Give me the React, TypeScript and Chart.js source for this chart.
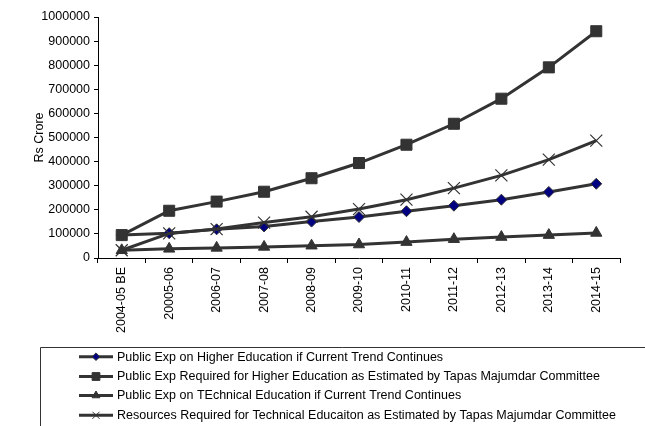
import React, { useEffect, useRef } from "react";
import { Chart, registerables } from "chart.js";

Chart.register(...registerables);

const categories = [
  "2004-05 BE", "20005-06", "2006-07", "2007-08", "2008-09", "2009-10",
  "2010-11", "2011-12", "2012-13", "2013-14", "2014-15",
];

const higherEdCurrent = [95000, 103000, 119000, 131000, 151000, 170000, 194000, 217000, 242000, 274000, 308000];
const higherEdRequired = [95000, 196000, 234000, 275000, 331000, 394000, 470000, 557000, 661000, 791000, 941000];
const techEdCurrent = [32000, 38000, 42000, 46000, 51000, 56000, 66000, 78000, 87000, 95000, 104000];
const techEdRequired = [32000, 102000, 120000, 147000, 171000, 203000, 242000, 290000, 343000, 408000, 487000];

const seriesNames = [
  "Public Exp on Higher Education if Current Trend Continues",
  "Public Exp Required for Higher Education as Estimated by Tapas Majumdar Committee",
  "Public Exp on TEchnical Education if Current Trend Continues",
  "Resources Required for Technical Educaiton as Estimated by Tapas Majumdar Committee",
];

const yTicks = [0, 100000, 200000, 300000, 400000, 500000, 600000, 700000, 800000, 900000, 1000000];

const FONT = "'Liberation Sans', Arial, Helvetica, sans-serif";
const FS = 12.5;
const LINE = "#333333";

function drawMarker(ctx: CanvasRenderingContext2D, style: string, x: number, y: number, r: number) {
  ctx.beginPath();
  if (style === "rect") {
    const s = r * Math.SQRT1_2;
    ctx.rect(x - s, y - s, 2 * s, 2 * s);
    ctx.fill();
    ctx.stroke();
  } else if (style === "rectRot") {
    ctx.moveTo(x, y - r);
    ctx.lineTo(x + r, y);
    ctx.lineTo(x, y + r);
    ctx.lineTo(x - r, y);
    ctx.closePath();
    ctx.fill();
    ctx.stroke();
  } else if (style === "triangle") {
    const w = (r * Math.sqrt(3)) / 2;
    ctx.moveTo(x, y - r);
    ctx.lineTo(x + w, y + r / 2);
    ctx.lineTo(x - w, y + r / 2);
    ctx.closePath();
    ctx.fill();
    ctx.stroke();
  } else if (style === "crossRot") {
    const o = r * Math.SQRT1_2;
    ctx.moveTo(x - o, y - o);
    ctx.lineTo(x + o, y + o);
    ctx.moveTo(x - o, y + o);
    ctx.lineTo(x + o, y - o);
    ctx.stroke();
  }
}

const legendPlugin = {
  id: "customLegend",
  afterDraw(chart: any) {
    const ctx = chart.ctx as CanvasRenderingContext2D;
    ctx.save();
    ctx.strokeStyle = "#333333";
    ctx.lineWidth = 1;
    ctx.beginPath();
    ctx.moveTo(40.5, 430);
    ctx.lineTo(40.5, 347.5);
    ctx.lineTo(645, 347.5);
    ctx.stroke();
    const ys = [356.7, 376.5, 395.5, 415.3];
    const legendSizes = [3.8, 5.5, 4.5, 5];
    chart.data.datasets.forEach((ds: any, i: number) => {
      const y = ys[i];
      ctx.strokeStyle = LINE;
      ctx.lineWidth = 3;
      ctx.beginPath();
      ctx.moveTo(79, y);
      ctx.lineTo(113, y);
      ctx.stroke();
      ctx.fillStyle = ds.pointBackgroundColor;
      ctx.strokeStyle = ds.pointBorderColor;
      ctx.lineWidth = 1;
      drawMarker(ctx, ds.pointStyle, 96, y, legendSizes[i]);
      ctx.fillStyle = "#000";
      ctx.font = `${FS}px ${FONT}`;
      ctx.textBaseline = "middle";
      ctx.textAlign = "left";
      ctx.fillText(seriesNames[i], 117, y + 0.5);
    });
    ctx.restore();
  },
};

export default function App() {
  const canvasRef = useRef<HTMLCanvasElement | null>(null);

  useEffect(() => {
    document.body.style.margin = "0";
    const canvas = canvasRef.current;
    if (!canvas) return;
    const chart = new Chart(canvas, {
      type: "line",
      data: {
        labels: categories,
        datasets: [
          {
            label: seriesNames[0],
            data: higherEdCurrent,
            borderColor: LINE,
            borderWidth: 3,
            pointStyle: "rectRot",
            pointRadius: 5.5,
            pointBackgroundColor: "#000080",
            pointBorderColor: "#333333",
            pointBorderWidth: 1,
            order: 4,
          },
          {
            label: seriesNames[1],
            data: higherEdRequired,
            borderColor: LINE,
            borderWidth: 3,
            pointStyle: "rect",
            pointRadius: 7.8,
            pointBackgroundColor: "#333333",
            pointBorderColor: "#333333",
            pointBorderWidth: 1,
            order: 3,
          },
          {
            label: seriesNames[2],
            data: techEdCurrent,
            borderColor: LINE,
            borderWidth: 3,
            pointStyle: "triangle",
            pointRadius: 6.5,
            pointBackgroundColor: "#333333",
            pointBorderColor: "#333333",
            pointBorderWidth: 1,
            order: 2,
          },
          {
            label: seriesNames[3],
            data: techEdRequired,
            borderColor: LINE,
            borderWidth: 3,
            pointStyle: "crossRot",
            pointRadius: 8.5,
            pointBackgroundColor: "#333333",
            pointBorderColor: "#333333",
            pointBorderWidth: 1.2,
            order: 1,
          },
        ],
      },
      options: {
        animation: false,
        responsive: false,
        maintainAspectRatio: false,
        layout: { padding: { left: 0, top: 17, right: 25, bottom: 0 } },
        plugins: {
          legend: { display: false },
          tooltip: { enabled: false },
          title: { display: false },
        },
        elements: { line: { tension: 0 } },
        scales: {
          x: {
            type: "category",
            offset: true,
            grid: {
              display: true,
              offset: true,
              drawOnChartArea: false,
              drawTicks: true,
              tickLength: 5,
              color: "#000",
            },
            border: { display: true, color: "#000", width: 1 },
            ticks: {
              color: "#000",
              font: { family: FONT, size: FS },
              minRotation: 90,
              maxRotation: 90,
              autoSkip: false,
              padding: 4,
            },
            afterFit: (scale: any) => {
              scale.height = 426 - 258;
            },
          },
          y: {
            type: "linear",
            min: 0,
            max: 1000000,
            afterBuildTicks: (scale: any) => {
              scale.ticks = yTicks.map((v) => ({ value: v }));
            },
            grid: {
              display: true,
              drawOnChartArea: false,
              drawTicks: true,
              tickLength: 4,
              color: "#000",
            },
            border: { display: true, color: "#000", width: 1 },
            ticks: {
              color: "#000",
              font: { family: FONT, size: FS },
              padding: 4,
              callback: (v: any) => String(v),
            },
            title: {
              display: true,
              text: "Rs Crore",
              color: "#000",
              font: { family: FONT, size: FS },
              padding: { top: 32, bottom: 0 },
            },
            afterFit: (scale: any) => {
              scale.width = 98;
            },
          },
        },
      },
      plugins: [legendPlugin],
    });
    return () => chart.destroy();
  }, []);

  return (
    <div style={{ position: "absolute", left: 0, top: 0, width: 645, height: 426, background: "#fff" }}>
      <canvas ref={canvasRef} width={645} height={426} style={{ width: 645, height: 426, display: "block" }} />
    </div>
  );
}
